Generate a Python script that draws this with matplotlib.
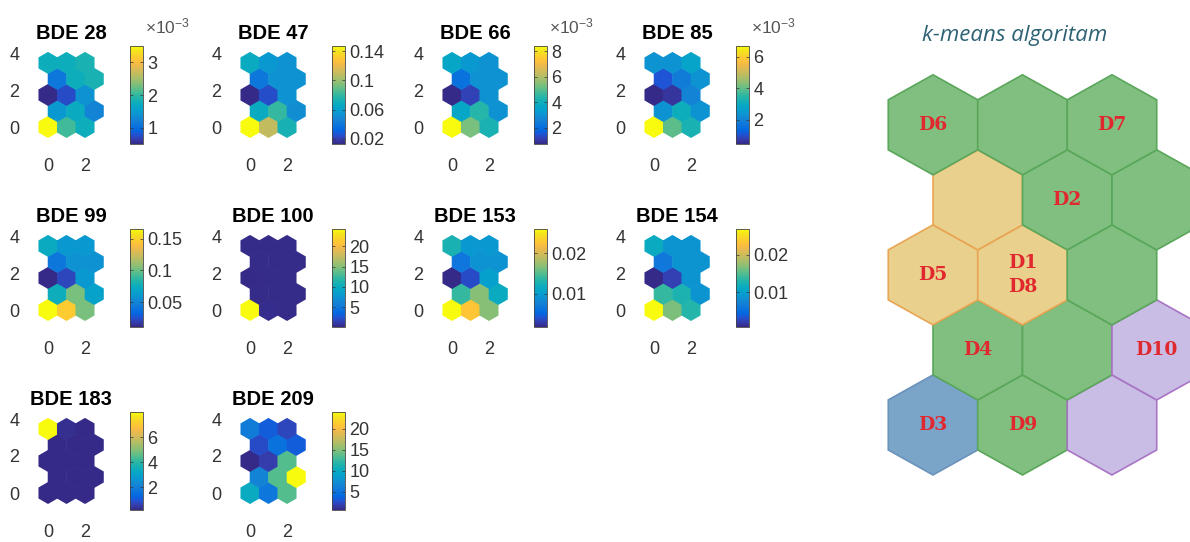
import numpy as np
import matplotlib
matplotlib.use("Agg")
import matplotlib.pyplot as plt
from matplotlib.colors import LinearSegmentedColormap
from matplotlib.patches import RegularPolygon
from matplotlib.collections import PatchCollection

plt.rcParams['font.family'] = ['Liberation Sans', 'DejaVu Sans']

# SOM 3x5 hex grid, nodes listed row by row from the bottom row (row 0)
n_cols, n_rows = 3, 5

titles = ['BDE 28', 'BDE 47', 'BDE 66', 'BDE 85',
          'BDE 99', 'BDE 100', 'BDE 153', 'BDE 154',
          'BDE 183', 'BDE 209']

bde28 = [3.50e-3, 2.06e-3, 1.76e-3,  1.46e-3, 1.70e-3, 1.25e-3,  0.50e-3, 0.74e-3, 1.40e-3,
         1.10e-3, 1.76e-3, 1.85e-3,  1.76e-3, 1.76e-3, 1.85e-3]
bde47 = [0.147, 0.109, 0.073,  0.067, 0.080, 0.051,  0.013, 0.024, 0.053,
         0.040, 0.053, 0.053,  0.067, 0.056, 0.053]
bde66 = [8.40e-3, 5.34e-3, 4.19e-3,  3.65e-3, 4.42e-3, 3.04e-3,  0.74e-3, 1.20e-3, 3.04e-3,
         2.12e-3, 3.04e-3, 3.04e-3,  3.65e-3, 3.19e-3, 3.04e-3]
bde85 = [6.70e-3, 3.95e-3, 3.26e-3,  2.33e-3, 3.08e-3, 2.33e-3,  0.45e-3, 0.64e-3, 2.01e-3,
         1.08e-3, 1.83e-3, 2.33e-3,  2.33e-3, 2.33e-3, 2.76e-3]
bde99 = [0.165, 0.1466, 0.1036,  0.0760, 0.1036, 0.0668,  0.0115, 0.0222, 0.0606,
         0.0422, 0.0576, 0.0576,  0.0729, 0.0606, 0.0606]
bde100 = [24.3, 0.3, 0.2,  0.2, 0.2, 0.2,  0.1, 0.2, 0.2,
          0.2, 0.2, 0.2,  0.2, 0.2, 0.2]
bde153 = [0.0260, 0.0226, 0.0168,  0.0139, 0.0168, 0.0115,  0.0018, 0.0037, 0.0103,
          0.0066, 0.0091, 0.0091,  0.0127, 0.0095, 0.0095]
bde154 = [0.0270, 0.0165, 0.0131,  0.0139, 0.0126, 0.0087,  0.0006, 0.0021, 0.0087,
          0.0060, 0.0087, 0.0087,  0.0113, 0.0087, 0.0087]
bde183 = [0.2, 0.2, 0.2,  0.2, 0.2, 0.2,  0.2, 0.2, 0.2,
          0.2, 0.2, 0.2,  8.0, 0.3, 0.2]
bde209 = [9.96, 5.28, 13.47,  6.45, 13.47, 24.0,  0.6, 1.77, 13.47,
          2.47, 4.81, 3.41,  5.75, 3.41, 2.24]
planes = [bde28, bde47, bde66, bde85, bde99, bde100, bde153, bde154, bde183, bde209]

cbar_ticks = [[1e-3, 2e-3, 3e-3], [0.02, 0.06, 0.1, 0.14], [2e-3, 4e-3, 6e-3, 8e-3],
              [2e-3, 4e-3, 6e-3], [0.05, 0.1, 0.15], [5, 10, 15, 20],
              [0.01, 0.02], [0.01, 0.02], [2, 4, 6], [5, 10, 15, 20]]
cbar_exp = [-3, 0, -3, -3, 0, 0, 0, 0, 0, 0]

# k-means clusters on the same grid
km_cluster = ['blue', 'green', 'purple',
              'green', 'green', 'purple',
              'yellow', 'yellow', 'green',
              'yellow', 'green', 'green',
              'green', 'green', 'green']
km_labels = ['D3', 'D9', '',
             'D4', '', 'D10',
             'D5', 'D1\nD8', '',
             '', 'D2', '',
             'D6', '', 'D7']

# parula-like colormap
parula = LinearSegmentedColormap.from_list('parula', [
    (0.2081, 0.1663, 0.5292), (0.2081, 0.2386, 0.6771), (0.1253, 0.3242, 0.8303),
    (0.0059, 0.4086, 0.8828), (0.0498, 0.4586, 0.8641), (0.0779, 0.5040, 0.8384),
    (0.0641, 0.5570, 0.8240), (0.0265, 0.6137, 0.8135), (0.0228, 0.6535, 0.7768),
    (0.0590, 0.6838, 0.7254), (0.1453, 0.7098, 0.6646), (0.2586, 0.7317, 0.5954),
    (0.3953, 0.7459, 0.5244), (0.5300, 0.7491, 0.4661), (0.6473, 0.7456, 0.4188),
    (0.7525, 0.7384, 0.3768), (0.8507, 0.7299, 0.3360), (0.9450, 0.7261, 0.2886),
    (0.9990, 0.7653, 0.2164), (0.9788, 0.8271, 0.1633), (0.9589, 0.8949, 0.1132),
    (0.9763, 0.9831, 0.0538)])

W, H = 1190, 542
fig = plt.figure(figsize=(W / 100, H / 100), dpi=100)


def px_axes(left, top, width, height):
    return fig.add_axes([left / W, 1 - (top + height) / H, width / W, height / H])


def hex_centers():
    xs, ys = [], []
    for r in range(n_rows):
        for c in range(n_cols):
            xs.append(c + 0.5 * (r % 2))
            ys.append(r * np.sqrt(0.75))
    return xs, ys


hx, hy = hex_centers()
rad = 1 / np.sqrt(3)
tick_color = '#333333'

s = 18.5  # px per data unit in the small planes
for k, (title, vals) in enumerate(zip(titles, planes)):
    gr, gc = divmod(k, 4)
    x0 = 48 + 202 * gc
    y0 = 127 + 183 * gr
    ax = px_axes(x0 - 1.25 * s, y0 - 4.1 * s, 5 * s, 5.45 * s)
    # slightly oversized hexes so neighbours overlap with no seam
    patches = [RegularPolygon((x, y), 6, radius=rad * 1.03) for x, y in zip(hx, hy)]
    coll = PatchCollection(patches, cmap=parula, linewidth=0)
    coll.set_array(np.array(vals))
    coll.set_clim(min(vals), max(vals))
    ax.add_collection(coll)
    ax.set_xlim(-1.25, 3.75)
    ax.set_ylim(-1.35, 4.1)
    ax.set_xticks([0, 2])
    ax.set_yticks([0, 2, 4])
    ax.tick_params(length=0, pad=4, labelsize=13, labelcolor=tick_color)
    for sp in ax.spines.values():
        sp.set_visible(False)
    ax.set_title(title, fontsize=14.5, fontweight='bold', pad=9)

    cax = px_axes(x0 + 82, y0 - 81, 13, 98)
    cb = fig.colorbar(coll, cax=cax, ticks=cbar_ticks[k])
    e = cbar_exp[k]
    cb.ax.set_yticklabels(['%g' % (t / 10 ** e) for t in cbar_ticks[k]])
    cb.outline.set_linewidth(0.6)
    cb.outline.set_edgecolor('#444444')
    cax.tick_params(direction='in', length=2.5, width=0.5, left=True, right=True,
                    labelsize=13, labelcolor=tick_color, color='#333333', pad=3)
    if e != 0:
        fig.text((x0 + 97) / W, 1 - (y0 - 94) / H, r'$\mathregular{\times10^{%d}}$' % e,
                 fontsize=12.5, color='#555555', ha='left', va='baseline')

# k-means map on the right
km_face = {'green': '#80bf80', 'yellow': '#e9d08c', 'blue': '#7ba4c9', 'purple': '#c9bde6'}
km_edge = {'green': '#5aa65a', 'yellow': '#e8a553', 'blue': '#6b92bb', 'purple': '#a874c4'}

axk = px_axes(860, 42, 330, 450)
for x, y, cl in zip(hx, hy, km_cluster):
    axk.add_patch(RegularPolygon((x, y), 6, radius=rad, facecolor=km_face[cl],
                                 edgecolor=km_edge[cl], linewidth=1.2))
for x, y, lab in zip(hx, hy, km_labels):
    if lab:
        axk.text(x, y, lab, ha='center', va='center', color='#e0282e',
                 fontsize=13.5, fontweight='bold', family='DejaVu Serif', linespacing=1.45)
axk.set_xlim(-0.816, 2.872)
axk.set_ylim(-0.774, 4.42)
axk.axis('off')

fig.text(1015 / W, 1 - 36 / H, 'k-means algoritam', style='italic', color='#2d6274',
         fontsize=16, family='Open Sans', ha='center', va='center')

fig.savefig('out.png', dpi=100)
